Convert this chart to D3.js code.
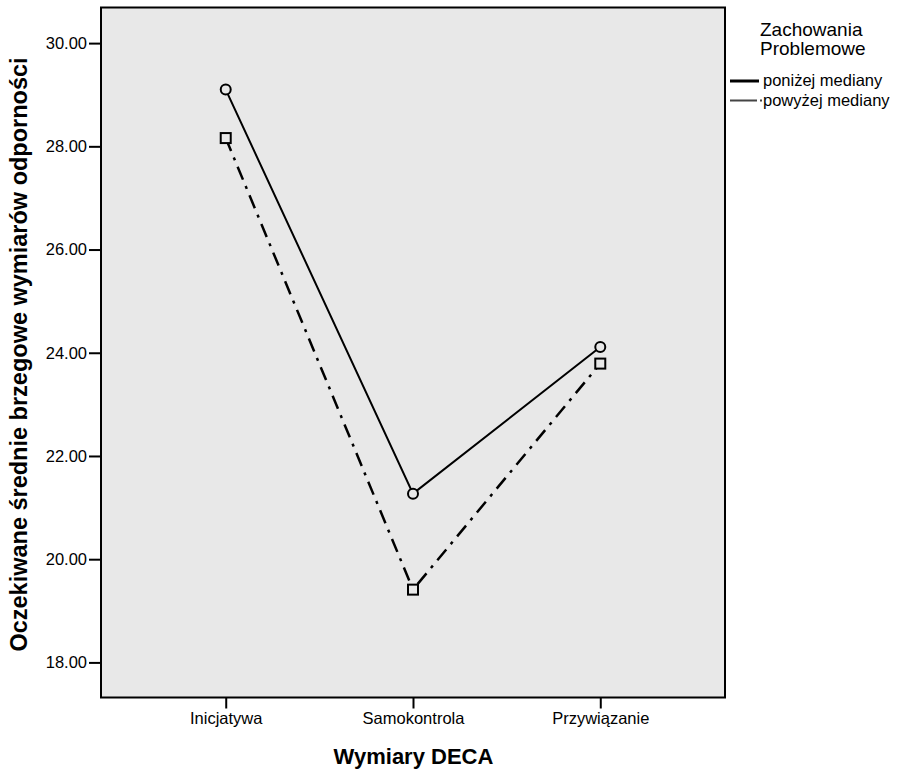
<!DOCTYPE html>
<meta charset="utf-8">
<body style="margin:0;background:#fff">
<style>
text { font-family: "Liberation Sans", Arial, sans-serif; fill: #000; }
.tick text { font-size: 16.5px; }
.tick line { stroke: #000; stroke-width: 2px; }
</style>
<script src="https://cdn.jsdelivr.net/npm/d3@7"></script>
<script>

var categories = ["Inicjatywa", "Samokontrola", "Przywiązanie"];
var below = [29.10, 21.27, 24.11];   // poniżej mediany
var above = [28.16, 19.41, 23.79];   // powyżej mediany
var yTicks = [18, 20, 22, 24, 26, 28, 30];
var legendTitle = ["Zachowania", "Problemowe"];
var legendLabels = ["poniżej mediany", "powyżej mediany"];

var svg = d3.select("body").append("svg")
    .attr("width", 903)
    .attr("height", 771);

// plot box (window.top is reserved, so no "top" var)
var pLeft = 101, pRight = 725, pTop = 7.5, pBottom = 697.5;

var x = d3.scalePoint()
    .domain(categories)
    .range([pLeft, pRight])
    .padding(0.666);

var y = d3.scaleLinear()
    .domain([17.32, 30.69])
    .range([pBottom, pTop]);

svg.append("rect")
    .attr("x", pLeft)
    .attr("y", pTop)
    .attr("width", pRight - pLeft)
    .attr("height", pBottom - pTop)
    .style("fill", "#e8e8e8")
    .style("stroke", "#000")
    .style("stroke-width", 2);

var yAxis = svg.append("g")
    .attr("transform", "translate(" + pLeft + ",0)")
    .call(d3.axisLeft(y).tickValues(yTicks).tickFormat(d3.format(".2f"))
      .tickSize(12).tickSizeOuter(0).tickPadding(2));
yAxis.select(".domain").remove();

var xAxis = svg.append("g")
    .attr("transform", "translate(0," + pBottom + ")")
    .call(d3.axisBottom(x).tickSize(11).tickSizeOuter(0).tickPadding(4));
xAxis.select(".domain").remove();

var line = d3.line()
    .x(function(d, i) { return x(categories[i]); })
    .y(function(d) { return y(d); });

svg.append("path")
    .datum(below)
    .attr("d", line)
    .style("fill", "none")
    .style("stroke", "#000")
    .style("stroke-width", 2);

svg.append("path")
    .datum(above)
    .attr("d", line)
    .style("fill", "none")
    .style("stroke", "#000")
    .style("stroke-width", 2.5)
    .style("stroke-dasharray", "14,7,3,7");

svg.selectAll(".circ")
    .data(below)
  .enter().append("circle")
    .attr("cx", function(d, i) { return x(categories[i]); })
    .attr("cy", function(d) { return y(d); })
    .attr("r", 5)
    .style("fill", "#e8e8e8")
    .style("stroke", "#000")
    .style("stroke-width", 2);

svg.selectAll(".sq")
    .data(above)
  .enter().append("rect")
    .attr("x", function(d, i) { return x(categories[i]) - 5; })
    .attr("y", function(d) { return y(d) - 5; })
    .attr("width", 10)
    .attr("height", 10)
    .style("fill", "#e8e8e8")
    .style("stroke", "#000")
    .style("stroke-width", 2);

// axis titles
svg.append("text")
    .attr("transform", "translate(27,354.5) rotate(-90)")
    .attr("text-anchor", "middle")
    .style("font-size", "23.5px")
    .style("font-weight", "bold")
    .text("Oczekiwane średnie brzegowe wymiarów odporności");

svg.append("text")
    .attr("x", 413.5)
    .attr("y", 764)
    .attr("text-anchor", "middle")
    .style("font-size", "22px")
    .style("font-weight", "bold")
    .text("Wymiary DECA");

// legend
var lg = svg.append("g");
lg.selectAll(".lt")
    .data(legendTitle)
  .enter().append("text")
    .attr("x", 760)
    .attr("y", function(d, i) { return 36 + i * 19; })
    .style("font-size", "19px")
    .text(function(d) { return d; });

lg.append("line")
    .attr("x1", 730).attr("x2", 759)
    .attr("y1", 81).attr("y2", 81)
    .style("stroke", "#000")
    .style("stroke-width", 3);

lg.append("line")
    .attr("x1", 730).attr("x2", 763)
    .attr("y1", 100.5).attr("y2", 100.5)
    .style("stroke", "#444")
    .style("stroke-width", 2)
    .style("stroke-dasharray", "27,3,2,40");

lg.selectAll(".ll")
    .data(legendLabels)
  .enter().append("text")
    .attr("x", 763)
    .attr("y", function(d, i) { return 86 + i * 20; })
    .style("font-size", "16.5px")
    .text(function(d) { return d; });

</script>
